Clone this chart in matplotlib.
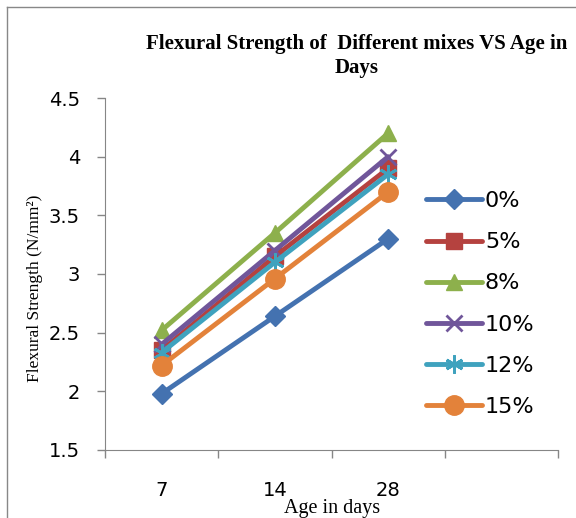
import matplotlib.pyplot as plt
from matplotlib.lines import Line2D

# datos
edades = ['7', '14', '28']
mezclas = ['0%', '5%', '8%', '10%', '12%', '15%']
r0 = [1.98, 2.64, 3.30]
r5 = [2.35, 3.15, 3.90]
r8 = [2.52, 3.35, 4.20]
r10 = [2.40, 3.20, 4.00]
r12 = [2.33, 3.10, 3.85]
r15 = [2.22, 2.96, 3.70]

colores = ['#4472B0', '#B5423F', '#8DB04C', '#70569A', '#3FA2BE', '#E3823A']
marcadores = ['D', 's', '^', 'x', (6, 2, 0), 'o']
tamanos = [10, 12, 12, 12, 13, 14]

fig = plt.figure(figsize=(5.76, 5.18), dpi=100)
ax = fig.add_axes([0.1823, 0.1313, 0.7865, 0.6795])

# borde exterior del grafico
fig.add_artist(Line2D([7/576, 7/576], [0, 1 - 7/518], transform=fig.transFigure, color='#888888', lw=1))
fig.add_artist(Line2D([7/576, 1], [1 - 7/518, 1 - 7/518], transform=fig.transFigure, color='#888888', lw=1))

x = list(range(len(edades)))
series = [r0, r5, r8, r10, r12, r15]
for i, serie in enumerate(series):
    ax.plot(x, serie, color=colores[i], lw=3.5, marker=marcadores[i], ms=tamanos[i],
            mew=2 if marcadores[i] in ('x', (6, 2, 0)) else 1,
            solid_capstyle='round', label=mezclas[i])

ax.set_xlim(-0.5, 3.5)
ax.set_ylim(1.5, 4.5)
ax.set_yticks([1.5, 2, 2.5, 3, 3.5, 4, 4.5])
ax.set_yticklabels(['1.5', '2', '2.5', '3', '3.5', '4', '4.5'], family='DejaVu Sans', fontsize=14)
ax.set_xticks([-0.5, 0.5, 1.5, 2.5, 3.5])
ax.set_xticklabels([])
ax.set_xticks(x, edades, minor=True, family='DejaVu Sans', fontsize=14)
ax.tick_params(axis='x', which='minor', length=0, pad=22)
ax.tick_params(axis='both', which='major', direction='out', length=6, color='#868686', width=1)
ax.tick_params(axis='y', pad=12)

for s in ['top', 'right']:
    ax.spines[s].set_visible(False)
for s in ['left', 'bottom']:
    ax.spines[s].set_color('#868686')

fig.text(0.62, 1 - 44/518, 'Flexural Strength of  Different mixes VS Age in',
         ha='center', va='center', family='Liberation Serif', weight='bold', fontsize=15)
fig.text(0.62, 1 - 68/518, 'Days', ha='center', va='center',
         family='Liberation Serif', weight='bold', fontsize=15)
fig.text(0.061, 1 - 288/518, 'Flexural Strength (N/mm²)', rotation=90, ha='center', va='center',
         family='Liberation Serif', fontsize=12.5)
fig.text(0.577, 1 - 508/518, 'Age in days', ha='center', va='center',
         family='Liberation Serif', fontsize=14.5)

leg = ax.legend(loc='center left', bbox_to_anchor=(426/576, 1 - 304/518), bbox_transform=fig.transFigure,
                frameon=False, borderpad=0, borderaxespad=0, handlelength=2.5, handletextpad=0.15,
                labelspacing=0.95, prop={'family': 'DejaVu Sans', 'size': 16})

fig.savefig('out.png', dpi=100)
